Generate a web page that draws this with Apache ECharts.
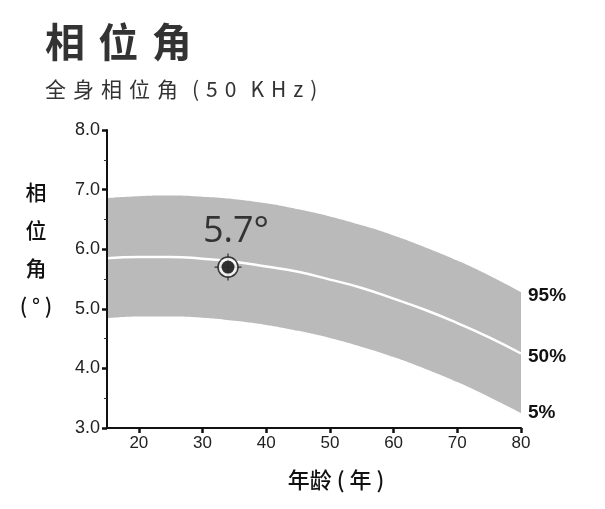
<!DOCTYPE html>
<html>
<head>
<meta charset="utf-8">
<script src="https://cdn.jsdelivr.net/npm/echarts@6/dist/echarts.min.js"></script>
<style>
html,body{margin:0;padding:0;background:#fff;}
#chart{width:605px;height:509px;}
</style>
</head>
<body>
<div id="chart"></div>
<script>
// ---- data ----
var ages = [15, 20, 25, 30, 35, 40, 45, 50, 55, 60, 65, 70, 75, 80];
var p95 = [6.86, 6.89, 6.90, 6.88, 6.84, 6.77, 6.67, 6.55, 6.40, 6.23, 6.03, 5.81, 5.56, 5.28];
var p50 = [5.85, 5.87, 5.87, 5.84, 5.79, 5.71, 5.62, 5.49, 5.35, 5.17, 4.98, 4.76, 4.52, 4.25];
var p5  = [4.84, 4.87, 4.87, 4.85, 4.80, 4.73, 4.63, 4.51, 4.36, 4.19, 3.99, 3.77, 3.52, 3.25];
var subject = [34, 5.7];
var xTicks = [20, 30, 40, 50, 60, 70, 80];
var titleText = '相\u2004位\u2004角';
var subtitleText = '全\u2004身\u2004相\u2004位\u2004角\u2004\u2004(\u20045\u20040\u2004\u2004K\u2004H\u2004z\u2004)';
var yName = '相\n位\n角\n( ° )';
var xName = '年龄 ( 年 )';
var bandLabels = ['95%', '50%', '5%'];

var upperData = ages.map(function (a, i) { return [a, p95[i]]; });
var lowerData = ages.map(function (a, i) { return [a, p5[i]]; });
var medData = ages.map(function (a, i) { return [a, p50[i]]; });

var chart = echarts.init(document.getElementById('chart'));
var cjk = '"Noto Sans CJK SC", "Noto Sans", sans-serif';
var latin = '"Liberation Sans", Arial, sans-serif';

function endLab(txt, dy) {
  return {
    show: true,
    formatter: function () { return txt; },
    fontFamily: latin,
    fontWeight: 'bold',
    fontSize: 19,
    color: '#111',
    distance: 7,
    offset: [0, dy]
  };
}

chart.setOption({
  animation: false,
  backgroundColor: '#fff',
  grid: { left: 107, right: 84, top: 130, bottom: 81, containLabel: false },
  xAxis: {
    type: 'value', min: 15, max: 80, z: 10,
    axisLine: { lineStyle: { color: '#111', width: 2 } },
    axisTick: { show: true, length: 5, customValues: xTicks, lineStyle: { color: '#111', width: 2.5 } },
    axisLabel: { customValues: xTicks, color: '#222', fontFamily: latin, fontSize: 17, margin: 7 },
    splitLine: { show: false }
  },
  yAxis: {
    type: 'value', min: 3, max: 8, interval: 1, z: 10,
    axisLine: { show: true, lineStyle: { color: '#111', width: 2 } },
    axisTick: { show: true, length: 5, lineStyle: { color: '#111', width: 2.5 } },
    minorTick: { show: true, splitNumber: 2, length: 3, lineStyle: { color: '#333', width: 1 } },
    axisLabel: { color: '#222', fontFamily: latin, fontSize: 18, margin: 7,
      formatter: function (v) { return v.toFixed(1); } },
    splitLine: { show: false }
  },
  graphic: [
    { type: 'text', left: 45, top: 22, style: { text: titleText, font: 'bold 40px ' + cjk, fill: '#333' } },
    { type: 'text', left: 45, top: 79, style: { text: subtitleText, font: '21px ' + cjk, fill: '#333' } },
    { type: 'text', x: 36, y: 173, style: { text: yName, font: '500 21px ' + cjk, fill: '#111', align: 'center', lineHeight: 38 } },
    { type: 'text', x: 336, y: 480, style: { text: xName, font: '500 22px ' + cjk, fill: '#111', align: 'center', verticalAlign: 'middle' } }
  ],
  series: [
    {
      name: '95%', type: 'line', data: upperData, smooth: true, symbol: 'none',
      lineStyle: { width: 0, opacity: 0 }, areaStyle: { color: '#bababa', opacity: 1 }, z: 1,
      endLabel: endLab(bandLabels[0], 4)
    },
    {
      name: '5%', type: 'line', data: lowerData, smooth: true, symbol: 'none',
      lineStyle: { width: 0, opacity: 0 }, areaStyle: { color: '#ffffff', opacity: 1 }, z: 1.5,
      endLabel: endLab(bandLabels[2], 0)
    },
    {
      name: '50%', type: 'line', data: medData, smooth: true, symbol: 'none',
      lineStyle: { color: '#fff', width: 2.5 }, z: 2,
      endLabel: endLab(bandLabels[1], 3)
    },
    {
      type: 'scatter', data: [subject], z: 3,
      symbol: 'path://M-0.6,-13 L0.6,-13 L0.6,13 L-0.6,13 Z M-13,-0.6 L13,-0.6 L13,0.6 L-13,0.6 Z',
      symbolSize: 27, itemStyle: { color: '#111' }, silent: true
    },
    {
      type: 'scatter', data: [subject], z: 4, symbol: 'circle', symbolSize: 20,
      itemStyle: { color: '#fff', borderColor: '#111', borderWidth: 1.5 }, silent: true
    },
    {
      type: 'scatter', data: [subject], z: 5, symbol: 'circle', symbolSize: 13,
      itemStyle: { color: '#000' }, silent: true,
      label: {
        show: true, position: 'top', distance: 11, offset: [8, 0],
        formatter: function (p) { return p.value[1].toFixed(1) + '°'; },
        fontFamily: '"Open Sans", "Noto Sans", sans-serif', fontSize: 36, color: '#111'
      }
    }
  ]
});
</script>
</body>
</html>
